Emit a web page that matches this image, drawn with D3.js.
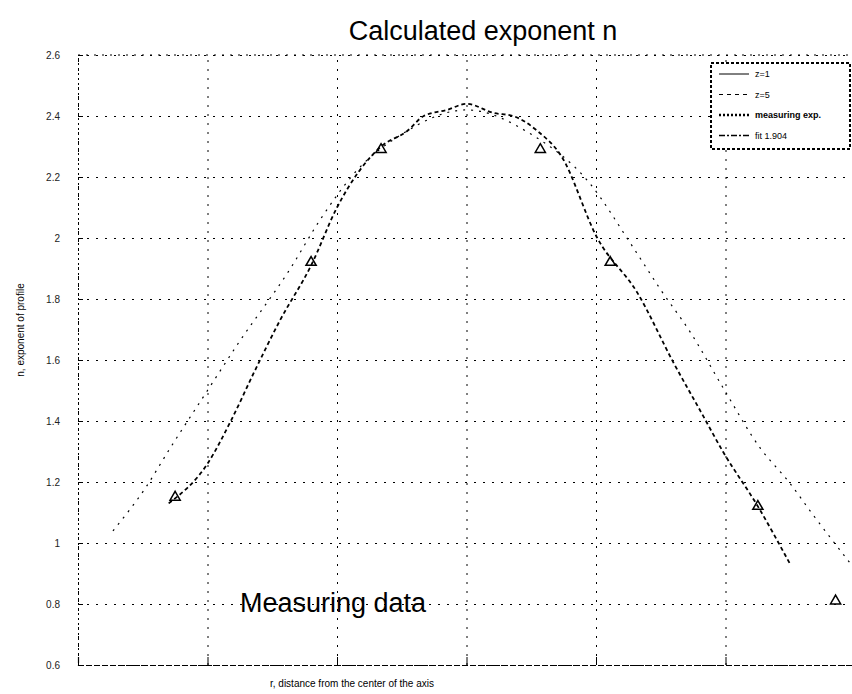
<!DOCTYPE html>
<html>
<head>
<meta charset="utf-8">
<script src="https://cdn.jsdelivr.net/npm/d3@7"></script>
<style>
  html, body { margin: 0; padding: 0; background: #fff; overflow: hidden; }
  svg { display: block; font-family: "Liberation Sans", Arial, sans-serif; }
</style>
</head>
<body>
<div id="chart"></div>
<script>
const width = 852, height = 694;
const margin = {top: 55, right: -3, bottom: 29, left: 78};

// r positions (grid every 1) and exponent n ticks
const xTicks = [-3, -2, -1, 0, 1, 2, 3];
const yTicks = [0.6, 0.8, 1, 1.2, 1.4, 1.6, 1.8, 2, 2.2, 2.4, 2.6];

// inner curve (heavy dotted)
const innerR = [-2.3, -2.0, -1.82, -1.64, -1.44, -1.2, -1.0, -0.66, -0.46, -0.33, -0.15, 0, 0.21, 0.36, 0.55, 0.73, 1.01, 1.32, 1.6, 1.81, 1.98, 2.25, 2.5];
const innerN = [1.13, 1.26, 1.40, 1.56, 1.73, 1.91, 2.10, 2.30, 2.35, 2.40, 2.42, 2.44, 2.41, 2.40, 2.35, 2.27, 2.00, 1.82, 1.59, 1.43, 1.30, 1.12, 0.93];

// outer curve (thin dashed)
const outerR = [-2.73, -2.48, -2.29, -2.0, -1.77, -1.36, -1.13, -0.85, -0.5, 0, 0.5, 0.95, 1.27, 1.5, 1.73, 1.98, 2.27, 2.49, 2.68, 2.97];
const outerN = [1.04, 1.18, 1.31, 1.50, 1.65, 1.90, 2.06, 2.22, 2.34, 2.42, 2.34, 2.18, 1.98, 1.83, 1.69, 1.51, 1.31, 1.20, 1.09, 0.93];

// measured points
const measR = [-2.25, -1.2, -0.66, 0.57, 1.11, 2.25, 2.85];
const measN = [1.15, 1.92, 2.29, 2.29, 1.92, 1.12, 0.81];

const legendLabels = ["z=1", "z=5", "measuring exp.", "fit 1.904"];

const innerWidth = width - margin.left - margin.right;
const innerHeight = height - margin.top - margin.bottom;

const svg = d3.select("#chart").append("svg")
  .attr("width", width).attr("height", height)
  .attr("viewBox", [0, 0, width, height]);

const xScale = d3.scaleLinear().domain([-3, 3]).range([0, innerWidth]);
const yScale = d3.scaleLinear().domain([0.6, 2.6]).range([innerHeight, 0]);

const innerChart = svg.append("g")
  .attr("transform", `translate(${margin.left}, ${margin.top})`);

// grid
innerChart.append("g")
  .attr("class", "grid")
  .attr("transform", `translate(0, ${innerHeight})`)
  .call(d3.axisBottom(xScale).tickValues(xTicks).tickSize(-innerHeight).tickFormat(""))
  .call(g => g.select(".domain").remove())
  .call(g => g.selectAll("text").remove())
  .call(g => g.selectAll("line").attr("stroke", "#000").attr("stroke-dasharray", "2,7"));

innerChart.append("g")
  .attr("class", "grid")
  .call(d3.axisLeft(yScale).tickValues(yTicks).tickSize(-innerWidth).tickFormat(""))
  .call(g => g.select(".domain").remove())
  .call(g => g.selectAll("text").remove())
  .call(g => g.selectAll("line").attr("stroke", "#000").attr("stroke-dasharray", "2,7"));

// axes
innerChart.append("g")
  .call(d3.axisLeft(yScale).tickValues(yTicks).tickSize(-5).tickPadding(18).tickFormat(d3.format("~g")))
  .call(g => g.select(".domain").attr("stroke-dasharray", "2,3"))
  .call(g => g.selectAll("text").attr("font-size", 10).attr("fill", "#222"));

innerChart.append("g")
  .attr("transform", `translate(0, ${innerHeight})`)
  .call(d3.axisBottom(xScale).tickValues(xTicks).tickSize(-8).tickFormat(""))
  .call(g => g.selectAll("text").remove())
  .call(g => g.select(".domain").attr("stroke-dasharray", "6,2").attr("stroke-width", 1.2));

innerChart.append("line")
  .attr("x1", 0).attr("x2", innerWidth).attr("y1", 0).attr("y2", 0)
  .attr("stroke", "#000").attr("stroke-dasharray", "2,6");

// curves
const lineGenerator = d3.line()
  .x(d => xScale(d[0]))
  .y(d => yScale(d[1]))
  .curve(d3.curveMonotoneX);

const outer = outerR.map((r, i) => [r, outerN[i]]);
const inner = innerR.map((r, i) => [r, innerN[i]]);

innerChart.append("path")
  .attr("d", lineGenerator(outer))
  .attr("fill", "none").attr("stroke", "#000")
  .attr("stroke-width", 1.2).attr("stroke-dasharray", "2,6");

innerChart.append("path")
  .attr("d", lineGenerator(inner))
  .attr("fill", "none").attr("stroke", "#000")
  .attr("stroke-width", 1.8).attr("stroke-dasharray", "4,3");

innerChart.selectAll(".meas")
  .data(measR.map((r, i) => [r, measN[i]]))
  .join("path")
    .attr("class", "meas")
    .attr("transform", d => `translate(${xScale(d[0])}, ${yScale(d[1])})`)
    .attr("d", d3.symbol(d3.symbolTriangle, 45))
    .attr("fill", "none").attr("stroke", "#000").attr("stroke-width", 1.5);

// legend
const legend = svg.append("g").attr("transform", "translate(711, 63)");
legend.append("rect")
  .attr("width", 139).attr("height", 86)
  .attr("fill", "#fff").attr("stroke", "#000")
  .attr("stroke-width", 2).attr("stroke-dasharray", "3,2");

const legendStyles = [
  {dash: null, w: 1},
  {dash: "4,4", w: 1},
  {dash: "2,2", w: 2.5},
  {dash: "6,2,2,2", w: 1.5}
];

legendLabels.forEach((label, i) => {
  const gy = 11 + i * 20.5;
  legend.append("line")
    .attr("x1", 8).attr("x2", 38).attr("y1", gy).attr("y2", gy)
    .attr("stroke", "#000").attr("stroke-width", legendStyles[i].w)
    .attr("stroke-dasharray", legendStyles[i].dash);
  legend.append("text")
    .attr("x", 44).attr("y", gy + 3)
    .attr("font-size", 9)
    .attr("font-weight", i === 2 ? "bold" : "normal")
    .text(label);
});

// texts
svg.append("text")
  .attr("x", 483).attr("y", 40)
  .attr("text-anchor", "middle")
  .attr("font-size", 27)
  .text("Calculated exponent n");

svg.append("text")
  .attr("x", 240).attr("y", 612)
  .attr("font-size", 27)
  .text("Measuring data");

svg.append("text")
  .attr("x", 352).attr("y", 687)
  .attr("text-anchor", "middle")
  .attr("font-size", 10)
  .text("r, distance from the center of the axis");

svg.append("text")
  .attr("transform", "translate(24, 330) rotate(-90)")
  .attr("text-anchor", "middle")
  .attr("font-size", 10)
  .text("n, exponent of profile");
</script>
</body>
</html>
